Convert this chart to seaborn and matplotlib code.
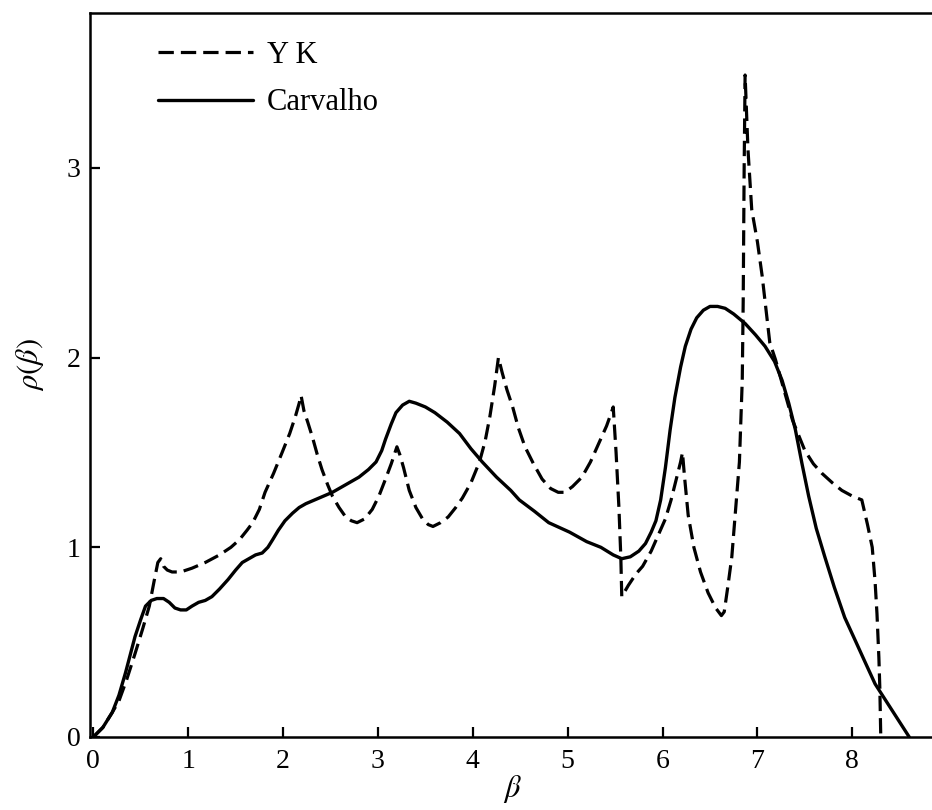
import matplotlib
matplotlib.use("Agg")
import matplotlib.pyplot as plt
import seaborn as sns

# Density of states rho(beta): Y K approximation versus Carvalho's result
yk_beta = [0.00, 0.10, 0.20, 0.27, 0.35, 0.44, 0.52, 0.59, 0.64, 0.68, 0.71, 0.74,
           0.78, 0.83, 0.92, 1.04, 1.18, 1.33, 1.45, 1.54, 1.62, 1.68, 1.75, 1.81,
           1.90, 1.99, 2.07, 2.13, 2.17, 2.19, 2.22, 2.26, 2.31, 2.36, 2.41, 2.47,
           2.52, 2.59, 2.66, 2.72, 2.78, 2.86, 2.94, 3.01, 3.08, 3.14, 3.18, 3.20,
           3.23, 3.27, 3.33, 3.40, 3.47, 3.53, 3.58, 3.66, 3.74, 3.82, 3.89, 3.98,
           4.07, 4.13, 4.18, 4.23, 4.27, 4.31, 4.36, 4.42, 4.48, 4.55, 4.64, 4.73,
           4.82, 4.90, 4.97, 5.05, 5.15, 5.24, 5.33, 5.41, 5.46, 5.48, 5.51, 5.54,
           5.56, 5.57, 5.64, 5.72, 5.79, 5.88, 5.96, 6.03, 6.09, 6.15, 6.19, 6.21,
           6.23, 6.27, 6.33, 6.40, 6.48, 6.56, 6.62, 6.65, 6.69, 6.73, 6.77, 6.81,
           6.84, 6.85, 6.86, 6.87, 6.90, 6.94, 7.00, 7.05, 7.13, 7.19, 7.28, 7.37,
           7.50, 7.59, 7.68, 7.79, 7.89, 8.00, 8.10, 8.16, 8.21, 8.24, 8.26, 8.28,
           8.29, 8.30]
yk_rho = [0.00, 0.05, 0.13, 0.19, 0.30, 0.44, 0.57, 0.69, 0.82, 0.92, 0.94, 0.90,
          0.88, 0.87, 0.87, 0.89, 0.92, 0.96, 1.00, 1.04, 1.09, 1.13, 1.20, 1.29,
          1.39, 1.50, 1.60, 1.69, 1.76, 1.80, 1.72, 1.66, 1.58, 1.49, 1.41, 1.33,
          1.27, 1.21, 1.16, 1.14, 1.13, 1.15, 1.20, 1.27, 1.36, 1.44, 1.50, 1.53,
          1.49, 1.42, 1.30, 1.21, 1.15, 1.12, 1.11, 1.13, 1.16, 1.21, 1.26, 1.34,
          1.45, 1.56, 1.69, 1.85, 2.00, 1.92, 1.83, 1.74, 1.63, 1.53, 1.44, 1.36,
          1.31, 1.29, 1.29, 1.32, 1.37, 1.45, 1.55, 1.64, 1.71, 1.74, 1.50, 1.21,
          0.95, 0.74, 0.80, 0.86, 0.90, 0.98, 1.07, 1.15, 1.25, 1.37, 1.45, 1.50,
          1.38, 1.17, 1.00, 0.87, 0.76, 0.68, 0.64, 0.66, 0.80, 0.95, 1.20, 1.45,
          1.88, 2.30, 3.00, 3.49, 3.10, 2.78, 2.61, 2.43, 2.08, 1.99, 1.83, 1.67,
          1.51, 1.44, 1.39, 1.34, 1.30, 1.27, 1.25, 1.12, 1.00, 0.82, 0.65, 0.42,
          0.26, 0.00]

carvalho_beta = [0.00, 0.10, 0.20, 0.27, 0.34, 0.44, 0.50, 0.55, 0.61, 0.67, 0.74, 0.80,
                 0.86, 0.92, 0.98, 1.04, 1.11, 1.18, 1.25, 1.33, 1.42, 1.50, 1.57, 1.64,
                 1.71, 1.78, 1.84, 1.89, 1.95, 2.02, 2.10, 2.17, 2.24, 2.38, 2.52, 2.66,
                 2.80, 2.90, 2.98, 3.04, 3.08, 3.14, 3.19, 3.26, 3.33, 3.40, 3.50, 3.60,
                 3.73, 3.86, 3.98, 4.10, 4.25, 4.40, 4.49, 4.65, 4.80, 5.02, 5.20, 5.35,
                 5.48, 5.57, 5.66, 5.75, 5.82, 5.88, 5.93, 5.98, 6.03, 6.08, 6.13, 6.19,
                 6.24, 6.30, 6.36, 6.43, 6.50, 6.58, 6.66, 6.75, 6.87, 6.98, 7.08, 7.18,
                 7.26, 7.33, 7.40, 7.47, 7.54, 7.62, 7.71, 7.81, 7.92, 8.03, 8.13, 8.24,
                 8.33, 8.42, 8.51, 8.60]
carvalho_rho = [0.00, 0.05, 0.13, 0.22, 0.34, 0.53, 0.62, 0.69, 0.72, 0.73, 0.73, 0.71,
                0.68, 0.67, 0.67, 0.69, 0.71, 0.72, 0.74, 0.78, 0.83, 0.88, 0.92, 0.94,
                0.96, 0.97, 1.00, 1.04, 1.09, 1.14, 1.18, 1.21, 1.23, 1.26, 1.29, 1.33,
                1.37, 1.41, 1.45, 1.51, 1.57, 1.65, 1.71, 1.75, 1.77, 1.76, 1.74, 1.71,
                1.66, 1.60, 1.52, 1.45, 1.37, 1.30, 1.25, 1.19, 1.13, 1.08, 1.03, 1.00,
                0.96, 0.94, 0.95, 0.98, 1.02, 1.08, 1.14, 1.25, 1.42, 1.62, 1.79, 1.95,
                2.06, 2.15, 2.21, 2.25, 2.27, 2.27, 2.26, 2.23, 2.18, 2.12, 2.06, 1.98,
                1.88, 1.76, 1.62, 1.44, 1.27, 1.10, 0.95, 0.79, 0.63, 0.51, 0.40, 0.28,
                0.21, 0.14, 0.07, 0.00]

series_names = ["Y K", "Carvalho"]
x_ticks = [0, 1, 2, 3, 4, 5, 6, 7, 8]
y_ticks = [0, 1, 2, 3]

sns.set_theme(style="ticks")
plt.rcParams["font.family"] = ["Liberation Serif", "DejaVu Serif"]
plt.rcParams["mathtext.fontset"] = "stix"
plt.rcParams["axes.linewidth"] = 1.8
plt.rcParams["axes.edgecolor"] = "black"
plt.rcParams["text.color"] = "black"
plt.rcParams["axes.labelcolor"] = "black"
plt.rcParams["xtick.color"] = "black"
plt.rcParams["ytick.color"] = "black"

fig = plt.figure(figsize=(9.32, 8.10), dpi=100)
ax = fig.add_axes([90 / 932, 73 / 810, 842 / 932, 724 / 810])

sns.lineplot(x=yk_beta, y=yk_rho, sort=False, estimator=None, ax=ax,
             color="black", lw=2.3, linestyle=(0, (4.8, 2.2)),
             dash_capstyle="butt", label=series_names[0])
sns.lineplot(x=carvalho_beta, y=carvalho_rho, sort=False, estimator=None, ax=ax,
             color="black", lw=2.4, solid_joinstyle="round",
             solid_capstyle="round", label=series_names[1])

ax.set_xlim(-0.035, 8.84)
ax.set_ylim(0, 3.817)
ax.set_xticks(x_ticks)
ax.set_yticks(y_ticks)
ax.spines["right"].set_visible(False)
ax.tick_params(direction="in", length=7, width=1.6, labelsize=20,
               colors="black", labelcolor="black")
ax.tick_params(axis="x", pad=9)
ax.tick_params(axis="y", pad=7)

ax.set_xlabel(r"$\beta$", fontsize=22)
ax.set_ylabel(r"$\rho(\beta)$", fontsize=22)
ax.xaxis.set_label_coords(0.502, -0.050)
ax.yaxis.set_label_coords(-0.052, 0.515)

ax.legend(loc="upper left", bbox_to_anchor=(0.081, 0.962), frameon=False,
          fontsize=22, handlelength=3.1, handletextpad=0.45, borderpad=0,
          borderaxespad=0, labelspacing=0.62)

fig.savefig("out.png", dpi=100, facecolor="white")
